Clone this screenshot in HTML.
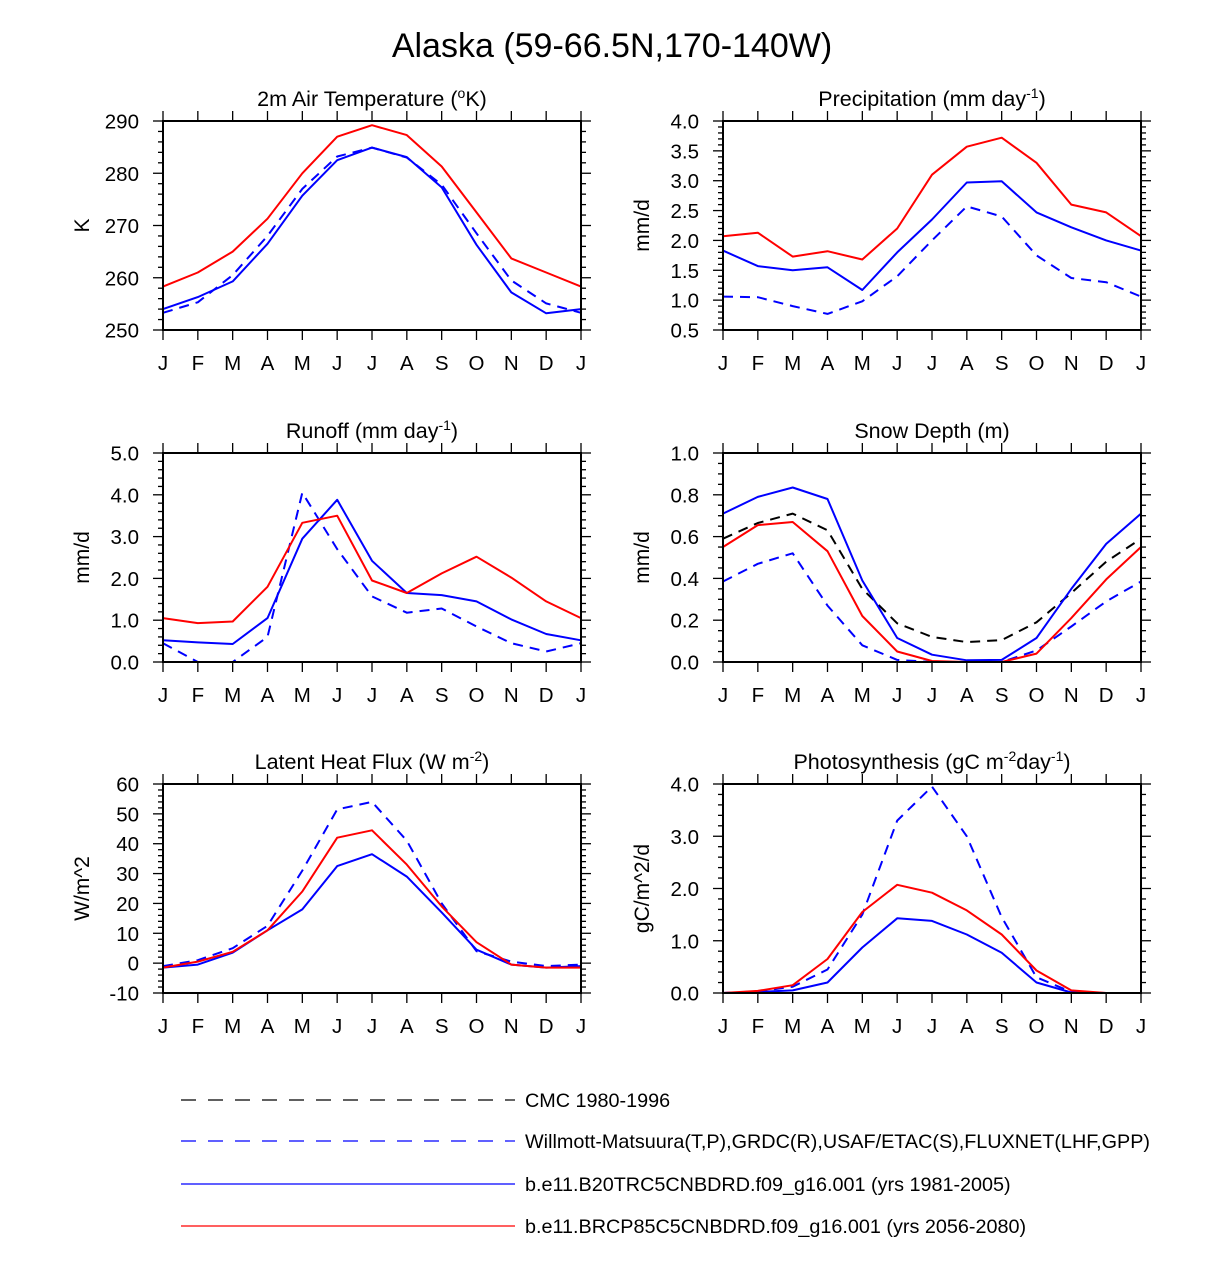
<!DOCTYPE html>
<html><head><meta charset="utf-8"><style>
body{margin:0;background:#fff}
svg text{font-family:"Liberation Sans",sans-serif;fill:#000}
</style></head><body>
<svg id="fig" width="1224" height="1258" viewBox="0 0 1224 1258" xmlns="http://www.w3.org/2000/svg">
<text x="612" y="57" font-size="34" text-anchor="middle">Alaska (59-66.5N,170-140W)</text>
<g>
<line x1="181" y1="1100" x2="515" y2="1100" stroke="#000" stroke-width="1.2" stroke-dasharray="15,12"/>
<text x="525" y="1107" font-size="19.8">CMC 1980-1996</text>
<line x1="181" y1="1141" x2="515" y2="1141" stroke="#00f" stroke-width="1.2" stroke-dasharray="15,12"/>
<text x="525" y="1148" font-size="19.8">Willmott-Matsuura(T,P),GRDC(R),USAF/ETAC(S),FLUXNET(LHF,GPP)</text>
<line x1="181" y1="1184" x2="515" y2="1184" stroke="#00f" stroke-width="1.2"/>
<text x="525" y="1191" font-size="19.8">b.e11.B20TRC5CNBDRD.f09_g16.001 (yrs 1981-2005)</text>
<line x1="181" y1="1226" x2="515" y2="1226" stroke="#f00" stroke-width="1.2"/>
<text x="525" y="1233" font-size="19.8">b.e11.BRCP85C5CNBDRD.f09_g16.001 (yrs 2056-2080)</text>
</g>
</svg>
<script>
const months = ["J","F","M","A","M","J","J","A","S","O","N","D","J"];
const tempRed = [258.3,261,265,271.3,280,287,289.2,287.3,281.3,272.5,263.7,261,258.3];
const tempBlue = [254,256.3,259.3,266.5,275.7,282.5,284.9,283.1,277.3,266.3,257.2,253.2,254];
const tempObs = [253.3,255.3,260.5,268,277,283.2,284.9,283,277.8,268.5,259.5,255.1,253.3];
const precRed = [2.07,2.13,1.73,1.82,1.68,2.2,3.1,3.57,3.72,3.3,2.6,2.47,2.07];
const precBlue = [1.83,1.57,1.5,1.55,1.17,1.8,2.35,2.97,2.99,2.47,2.22,2.0,1.83];
const precObs = [1.06,1.05,0.9,0.77,0.98,1.4,2.0,2.57,2.4,1.75,1.37,1.3,1.06];
const runRed = [1.05,0.93,0.97,1.8,3.33,3.5,1.95,1.65,2.12,2.52,2.02,1.45,1.05];
const runBlue = [0.52,0.47,0.43,1.05,2.95,3.88,2.42,1.65,1.6,1.45,1.02,0.67,0.52];
const runObs = [0.45,0.0,0.0,0.6,4.05,2.7,1.57,1.18,1.28,0.85,0.45,0.25,0.45];
const snowRed = [0.55,0.655,0.67,0.53,0.22,0.05,0.005,0,0,0.04,0.21,0.395,0.55];
const snowBlue = [0.71,0.79,0.835,0.78,0.39,0.115,0.035,0.008,0.01,0.115,0.35,0.565,0.71];
const snowObs = [0.385,0.47,0.52,0.27,0.08,0.01,0,0,0,0.055,0.17,0.29,0.385];
const snowCmc = [0.59,0.665,0.71,0.63,0.35,0.185,0.12,0.095,0.105,0.19,0.33,0.48,0.59];
const lhfRed = [-1.5,0.5,3.8,11,24,42,44.5,33,19,7,-0.5,-1.5,-1.5];
const lhfBlue = [-1.5,-0.5,3.5,11,18,32.5,36.5,29,17,4.5,-0.5,-1.5,-1];
const lhfObs = [-1,1,5,12.5,31,51.5,54,41,20,4,0.5,-1,-0.5];
const gppRed = [0,0.04,0.15,0.65,1.55,2.07,1.92,1.58,1.12,0.43,0.05,0,0];
const gppBlue = [0,0.02,0.05,0.2,0.87,1.43,1.38,1.12,0.77,0.2,0.01,0,0];
const gppObs = [0,0.03,0.12,0.45,1.5,3.3,3.95,3.0,1.45,0.3,0.02,0,0];

const NS="http://www.w3.org/2000/svg";
const svg=document.getElementById('fig');
function mk(tag,attrs,parent){const e=document.createElementNS(NS,tag);for(const k in attrs)e.setAttribute(k,attrs[k]);parent.appendChild(e);return e;}

function panel(name,x0,y0,titleHtml,ylabel,ymin,ymax,major,minor,dec,series){
  const W=418,H=209,x1=x0+W,y1=y0+H;
  const g=mk('g',{},svg);
  
  
  const X=i=>x0+i*W/12;
  const Y=v=>y1-(v-ymin)/(ymax-ymin)*H;
  const tk=mk('g',{stroke:'#000','stroke-width':1.3},g);
  
  
  for(let i=0;i<13;i++){
    mk('line',{x1:X(i),x2:X(i),y1:y1,y2:y1+10},tk);
    mk('line',{x1:X(i),x2:X(i),y1:y0,y2:y0-10},tk);
  }
  const nMin=Math.round((ymax-ymin)/minor);
  for(let j=0;j<=nMin;j++){
    const v=ymin+j*minor;
    const isMaj=Math.abs(((v-ymin)/major)-Math.round((v-ymin)/major))<1e-6;
    const L=isMaj?10:5;
    mk('line',{x1:x0-L,x2:x0,y1:Y(v),y2:Y(v)},tk);
    mk('line',{x1:x1,x2:x1+L,y1:Y(v),y2:Y(v)},tk);
  }
  const nMaj=Math.round((ymax-ymin)/major);
  for(let j=0;j<=nMaj;j++){
    const v=ymin+j*major;
    const t=mk('text',{x:x0-24,y:Y(v)+7.5,'font-size':20.5,'text-anchor':'end'},g);
    t.textContent=v.toFixed(dec);
    
    
  }
  months.forEach((m,i)=>{
    const t=mk('text',{x:X(i),y:y1+40,'font-size':20.5,'text-anchor':'middle'},g);
    t.textContent=m;
    
    
  });
  const yt=mk('text',{x:0,y:0,'font-size':21,'text-anchor':'middle',transform:`translate(${x0-74},${(y0+y1)/2}) rotate(-90)`},g);
  yt.textContent=ylabel;
  
  
  const tt=mk('text',{x:(x0+x1)/2,y:y0-15,'font-size':21.5,'text-anchor':'middle'},g);
  tt.innerHTML=titleHtml;
  
  
  series.forEach(s=>{
    const pts=s.data.map((v,i)=>X(i).toFixed(1)+','+Y(v).toFixed(1)).join(' ');
    const a={points:pts,fill:'none',stroke:s.color,'stroke-width':2,'stroke-linejoin':'round'};
    if(s.dash)a['stroke-dasharray']='10,7';
    const p=mk('polyline',a,g);
    
    
  });
  const fr=mk('rect',{x:x0,y:y0,width:W,height:H,fill:'none',stroke:'#000','stroke-width':2},g);
  
  
}
const sup=s=>`<tspan dy="-8" font-size="14">${s}</tspan><tspan dy="8">`;
panel('temperature',163,121,'2m Air Temperature ('+sup('o')+'K)</tspan>','K',250,290,10,2,0,
 [{id:'obs',data:tempObs,color:'#00f',dash:1},{id:'b20tr',data:tempBlue,color:'#00f'},{id:'rcp85',data:tempRed,color:'#f00'}]);
panel('precipitation',723,121,'Precipitation (mm day'+sup('-1')+')</tspan>','mm/d',0.5,4.0,0.5,0.1,1,
 [{id:'obs',data:precObs,color:'#00f',dash:1},{id:'b20tr',data:precBlue,color:'#00f'},{id:'rcp85',data:precRed,color:'#f00'}]);
panel('runoff',163,453,'Runoff (mm day'+sup('-1')+')</tspan>','mm/d',0,5,1,0.2,1,
 [{id:'obs',data:runObs,color:'#00f',dash:1},{id:'b20tr',data:runBlue,color:'#00f'},{id:'rcp85',data:runRed,color:'#f00'}]);
panel('snow-depth',723,453,'Snow Depth (m)','mm/d',0,1,0.2,0.05,1,
 [{id:'cmc',data:snowCmc,color:'#000',dash:1},{id:'obs',data:snowObs,color:'#00f',dash:1},{id:'b20tr',data:snowBlue,color:'#00f'},{id:'rcp85',data:snowRed,color:'#f00'}]);
panel('latent-heat',163,784,'Latent Heat Flux (W m'+sup('-2')+')</tspan>','W/m^2',-10,60,10,2,0,
 [{id:'obs',data:lhfObs,color:'#00f',dash:1},{id:'b20tr',data:lhfBlue,color:'#00f'},{id:'rcp85',data:lhfRed,color:'#f00'}]);
panel('photosynthesis',723,784,'Photosynthesis (gC m'+sup('-2')+'day'+sup('-1')+')</tspan></tspan>','gC/m^2/d',0,4,1,0.2,1,
 [{id:'obs',data:gppObs,color:'#00f',dash:1},{id:'b20tr',data:gppBlue,color:'#00f'},{id:'rcp85',data:gppRed,color:'#f00'}]);
</script>
</body></html>
